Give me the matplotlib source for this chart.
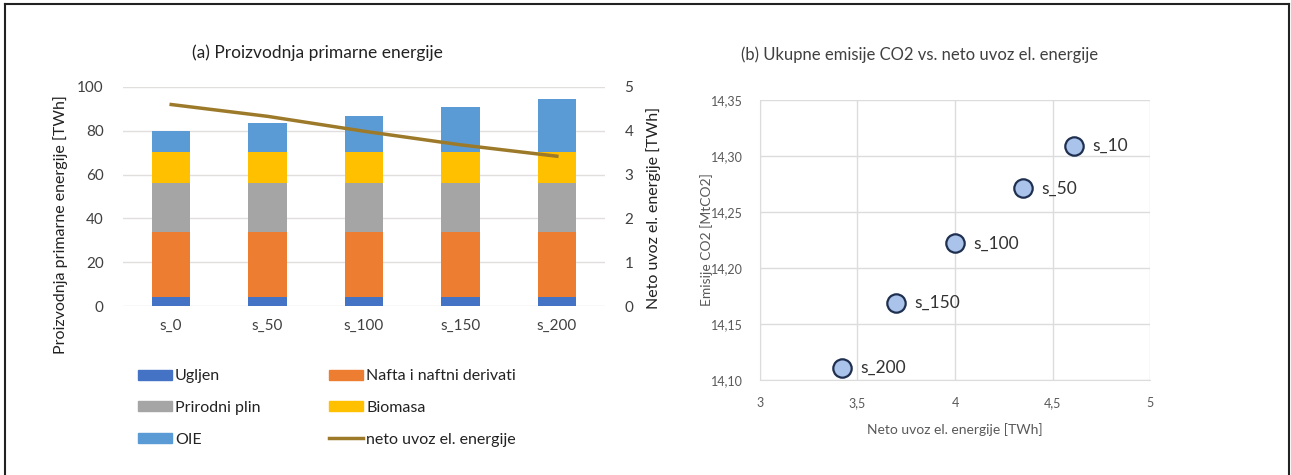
import matplotlib
matplotlib.use("Agg")
import matplotlib.pyplot as plt
import numpy as np
from matplotlib.lines import Line2D
from matplotlib.patches import Patch

plt.rcParams['font.family'] = ['Lato', 'DejaVu Sans']

# ---- data (a) ----
scenarios = ["s_0", "s_50", "s_100", "s_150", "s_200"]
ugljen = [4.0, 4.0, 4.0, 4.0, 4.0]
nafta = [30.0, 30.0, 30.0, 30.0, 30.0]
plin = [22.3, 22.3, 22.3, 22.3, 22.3]
biomasa = [14.2, 14.2, 14.2, 14.2, 14.2]
oie = [9.5, 13.2, 16.4, 20.2, 23.9]
neto_uvoz = [4.6, 4.33, 3.99, 3.68, 3.42]

# ---- data (b) ----
sc_labels = ["s_10", "s_50", "s_100", "s_150", "s_200"]
sc_uvoz = [4.61, 4.35, 4.0, 3.70, 3.42]
sc_emisije = [14.309, 14.271, 14.222, 14.169, 14.111]

series_names = ["Ugljen", "Nafta i naftni derivati", "Prirodni plin", "Biomasa", "OIE"]
series_vals = [ugljen, nafta, plin, biomasa, oie]
colors = ["#4472C4", "#ED7D31", "#A5A5A5", "#FFC000", "#5B9BD5"]
line_color = "#9C7A2A"
txt = "#404040"

fig = plt.figure(figsize=(12.91, 4.75), dpi=100)
W, H = 1291, 475

def box(l, t, r, b):
    return [l / W, 1 - b / H, (r - l) / W, (b - t) / H]

# frame
fig.add_artist(Line2D([5 / W, 5 / W], [0, 1 - 4 / H], color="#222222", lw=1.5))
fig.add_artist(Line2D([5 / W, 1289 / W], [1 - 4 / H, 1 - 4 / H], color="#222222", lw=1.5))
fig.add_artist(Line2D([1289 / W, 1289 / W], [1 - 4 / H, 0], color="#222222", lw=1.5))

# ---- panel (a) ----
ax = fig.add_axes(box(123, 87, 605, 306))
x = np.arange(len(scenarios))
bottom = np.zeros(len(scenarios))
for name, vals, c in zip(series_names, series_vals, colors):
    ax.bar(x, vals, 0.4, bottom=bottom, color=c, label=name, zorder=2)
    bottom += np.array(vals)
ax.set_ylim(0, 100)
ax.set_xlim(-0.5, len(scenarios) - 0.5)
ax.set_yticks(np.arange(0, 101, 20))
ax.set_xticks(x)
ax.set_xticklabels(scenarios)
ax.yaxis.grid(True, color="#e3dede", lw=1, zorder=0)
for s in ax.spines.values():
    s.set_visible(False)
ax.tick_params(length=0, labelsize=11, colors=txt, pad=14)
ax.tick_params(axis='x', pad=9)
ax.set_ylabel("Proizvodnja primarne energije [TWh]", fontsize=11.5, color="#222222")
ax.yaxis.set_label_coords(-0.115, 0.37)

ax2 = ax.twinx()
ax2.plot(x, neto_uvoz, color=line_color, lw=2.5, zorder=3)
ax2.set_ylim(0, 5)
ax2.set_yticks(np.arange(0, 6, 1))
for s in ax2.spines.values():
    s.set_visible(False)
ax2.tick_params(length=0, labelsize=11, colors=txt, pad=14)
ax2.set_ylabel("Neto uvoz el. energije [TWh]", fontsize=11.5, color="#222222")
ax2.yaxis.set_label_coords(1.085, 0.45)

fig.text(317 / W, 1 - 53 / H, "(a) Proizvodnja primarne energije", ha="center", va="center",
         fontsize=12.5, color="#222222")

# legend
handles = [Patch(color=c) for c in colors] + [Line2D([], [], color=line_color, lw=2.5)]
labels = series_names + ["neto uvoz el. energije"]
order = [0, 2, 4, 1, 3, 5]
fig.legend([handles[i] for i in order], [labels[i] for i in order],
           ncol=2, loc="upper left", bbox_to_anchor=(124 / W, 1 - 355 / H),
           frameon=False, fontsize=11.5, handlelength=2.1, handleheight=0.55,
           handletextpad=0.2, columnspacing=4.3, labelspacing=1.1, labelcolor="#222222")

# ---- panel (b) ----
bx = fig.add_axes(box(760, 100, 1150, 380))
bx.scatter(sc_uvoz, sc_emisije, s=175, color="#A9C3EA", edgecolor="#1F2F4F", lw=1.6, zorder=3)
for xv, yv, lab in zip(sc_uvoz, sc_emisije, sc_labels):
    bx.annotate(lab, (xv, yv), xytext=(13, 0), textcoords="offset points", va="center",
                ha="left", fontsize=12.5, color="#333333")
bx.set_xlim(3, 5)
bx.set_ylim(14.10, 14.35)
bx.set_xticks([3, 3.5, 4, 4.5, 5])
bx.set_xticklabels(["3", "3,5", "4", "4,5", "5"])
yt = [14.10, 14.15, 14.20, 14.25, 14.30, 14.35]
bx.set_yticks(yt)
bx.set_yticklabels([f"{v:.2f}".replace(".", ",") for v in yt])
bx.grid(True, color="#dcdcdc", lw=1, zorder=0)
for s in bx.spines.values():
    s.set_visible(False)
bx.spines['left'].set_visible(True)
bx.spines['left'].set_color("#dcdcdc")
bx.spines['bottom'].set_visible(True)
bx.spines['bottom'].set_color("#dcdcdc")
bx.tick_params(length=0, labelsize=9, colors="#595959", pad=12)
bx.set_xlabel("Neto uvoz el. energije [TWh]", fontsize=10, color="#595959", labelpad=10)
bx.set_ylabel("Emisije CO2 [MtCO2]", fontsize=10, color="#595959")
bx.yaxis.set_label_coords(-0.12, 0.5)
fig.text(920 / W, 1 - 55 / H, "(b) Ukupne emisije CO2 vs. neto uvoz el. energije", ha="center",
         va="center", fontsize=12, color="#404040")

fig.savefig("out.png", dpi=100)
